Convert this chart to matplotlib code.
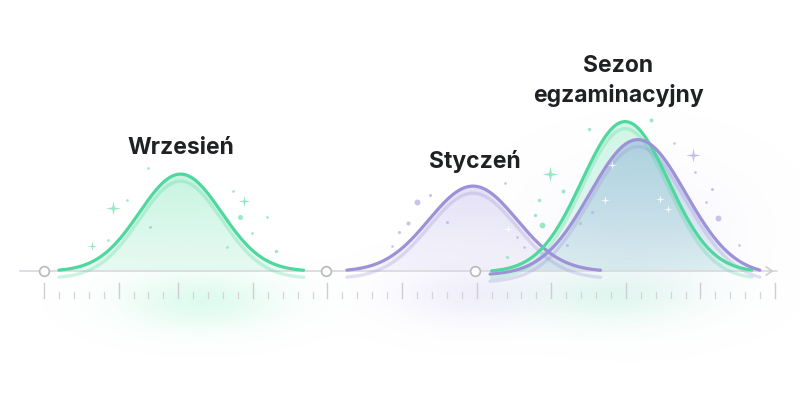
import numpy as np
import matplotlib
matplotlib.use("Agg")
import matplotlib.pyplot as plt
from matplotlib.colors import to_rgb
from matplotlib.path import Path
from matplotlib.patches import Polygon

plt.rcParams['font.family'] = ['Inter', 'DejaVu Sans']

# ---------------- data ----------------
labels = ["Wrzesień", "Styczeń", "Sezon\negzaminacyjny"]
label_x = [9.15, 28.9, 38.5]
label_y = [0.82, 0.733, 1.267]

curve_names = ["wrzesien", "styczen", "egzamin_a", "egzamin_b"]
curve_center = [9.15, 28.75, 38.95, 39.8]
curve_sigma = [2.75, 2.95, 2.9, 3.2]
curve_peak = [0.64, 0.56, 0.99, 0.87]
curve_start = [1.0, 20.3, 30.0, 29.9]
curve_end = [17.4, 37.3, 47.45, 47.98]
curve_kind = ["green", "purple", "green", "purple"]

axis_start, axis_end = -1.6, 49.1
tick_positions = list(range(0, 50))
major_ticks = [0, 5, 9, 14, 19, 24, 29, 34, 39, 44, 49]
marker_points = [0.0, 18.9, 28.9]

# decorative sparkles (t, value, size, colour kind)
dots_x = [6.97, 5.56, 4.29, 7.10, 12.67, 13.14, 13.94, 14.95, 15.55, 12.27,
          25.0, 25.87, 24.4, 23.8, 23.3, 27.0, 30.9, 31.7, 32.2,
          34.8, 33.2, 33.4, 32.9, 35.05, 31.0, 36.5, 40.7,
          42.2, 43.6, 44.8, 44.4, 45.2, 46.6, 35.9, 36.7]
dots_y = [0.687, 0.473, 0.207, 0.293, 0.533, 0.36, 0.253, 0.36, 0.133, 0.16,
          0.46, 0.507, 0.32, 0.26, 0.167, 0.327, 0.587, 0.227, 0.16,
          0.533, 0.473, 0.307, 0.373, 0.173, 0.093, 0.947, 1.007,
          0.853, 0.66, 0.547, 0.46, 0.353, 0.173, 0.32, 0.393]
dots_s = [6, 6, 6, 8, 6, 22, 6, 6, 10, 6,
          30, 8, 14, 8, 6, 8, 6, 6, 6,
          14, 10, 30, 10, 8, 8, 10, 14,
          6, 6, 8, 6, 30, 6, 8, 8]
dots_c = ["g", "g", "g", "g", "g", "g", "g", "g", "g", "g",
          "p", "p", "p", "p", "p", "p", "p", "p", "p",
          "g", "g", "g", "g", "p", "g", "g", "g",
          "p", "p", "p", "p", "p", "p", "p", "p"]
stars_x = [4.62, 3.22, 13.4, 33.9, 43.5]
stars_y = [0.42, 0.167, 0.467, 0.647, 0.773]
stars_s = [110, 45, 70, 130, 110]
stars_c = ["g", "g", "g", "g", "p"]
white_x = [31.1, 38.1, 37.6, 41.3, 41.8]
white_y = [0.28, 0.707, 0.473, 0.48, 0.413]

# ---------------- style ----------------
GREEN = "#4fd89e"
PURPLE = "#9d92d8"
GREEN_FILL = "#62e0aa"
PURPLE_FILL = "#a9a2e2"
EXAM_FILL = "#7fa3d6"
COL = {"g": "#7fe0b6", "p": "#b7afe3"}
X0, PXT = 44.0, 14.92
PXV = 150.0

fig = plt.figure(figsize=(8, 4.2), dpi=100)
ax = fig.add_axes([0, 0, 1, 1])
ax.axis("off")
xmin, xmax = -X0 / PXT, (800 - X0) / PXT
ymin, ymax = -(420 - 271) / PXV, 271 / PXV

# background glow
gx = np.linspace(xmin, xmax, 500)
gy = np.linspace(ymin, ymax, 260)
GX, GY = np.meshgrid(gx, gy)
bg = np.ones((len(gy), len(gx), 4))
glows = [(10.5, -0.2, 3.6, 0.13, "#9af2cb", 0.32),
         (28.5, -0.15, 3.5, 0.14, "#d4cdf4", 0.30),
         (38.0, -0.17, 4.0, 0.13, "#a8f0cf", 0.30),
         (40.0, 0.25, 4.5, 0.3, "#d4cff3", 0.18)]
eps = 1e-4
acc_a = np.zeros_like(GX)
acc_c = np.zeros(GX.shape + (3,)) + eps
for cx, cy, sx, sy, c, a in glows:
    w = a * np.exp(-0.5 * (((GX - cx) / sx) ** 2 + ((GY - cy) / sy) ** 2))
    acc_c += w[..., None] * np.array(to_rgb(c))
    acc_a += w
bg[..., :3] = np.clip(acc_c / (acc_a[..., None] + eps), 0, 1)
bg[..., 3] = np.clip(acc_a, 0, 1)
ax.imshow(bg, extent=[xmin, xmax, ymin, ymax], origin="lower", aspect="auto",
          zorder=0, interpolation="bilinear")


def curve(i):
    t = np.linspace(curve_start[i], curve_end[i], 400)
    g = np.exp(-0.5 * ((t - curve_center[i]) / curve_sigma[i]) ** 2)
    e = np.exp(-0.5 * ((np.array([curve_start[i], curve_end[i]]) - curve_center[i]) / curve_sigma[i]) ** 2).max()
    y = curve_peak[i] * (g - e) / (1 - e) + 0.006
    return t, y


def grad_fill(t, y, color, a_top, a_bot, z):
    verts = np.column_stack([np.r_[t, t[::-1]], np.r_[y, np.zeros_like(y)]])
    patch = Polygon(verts, closed=True, facecolor="none", edgecolor="none",
                    transform=ax.transData)
    ax.add_patch(patch)
    n = 256
    rgba = np.zeros((n, 1, 4))
    rgba[..., :3] = to_rgb(color)
    rgba[:, 0, 3] = np.linspace(a_bot, a_top, n)
    im = ax.imshow(rgba, extent=[t.min(), t.max(), 0, y.max()], origin="lower",
                   aspect="auto", zorder=z, interpolation="bilinear")
    im.set_clip_path(patch)


fills = {0: (GREEN_FILL, 0.36, 0.14), 1: (PURPLE_FILL, 0.32, 0.10),
         2: (GREEN_FILL, 0.30, 0.10), 3: (EXAM_FILL, 0.45, 0.12)}
for i in range(4):
    t, y = curve(i)
    fc, at, ab = fills[i]
    grad_fill(t, y, fc, at, ab, 1 + i * 0.1)

# axis line
ax.plot([axis_start, axis_end], [0, 0], color="#dadae0", lw=1.3, zorder=2, solid_capstyle="round")
ax.annotate("", xy=(axis_end, 0), xytext=(axis_end - 0.6, 0),
            arrowprops=dict(arrowstyle="->,head_length=0.45,head_width=0.3", color="#cfcfd6", lw=1.2),
            zorder=2)

# ticks
for k in tick_positions:
    if k in major_ticks:
        ax.plot([k, k], [-0.08, -0.18], color="#cdcdd3", lw=1.0, zorder=2)
    else:
        ax.plot([k, k], [-0.14, -0.18], color="#d4d4da", lw=0.9, zorder=2)

# curves lines
for i in range(4):
    t, y = curve(i)
    c = GREEN if curve_kind[i] == "green" else PURPLE
    ax.plot(t, y - 0.047, color=c, lw=2.4, alpha=0.28, zorder=3, solid_capstyle="round")
for i in range(4):
    t, y = curve(i)
    c = GREEN if curve_kind[i] == "green" else PURPLE
    ax.plot(t, y, color=c, lw=2.3, zorder=4 + i * 0.1, solid_capstyle="round")

ax.plot(marker_points, [0] * len(marker_points), "o", ms=7, mfc="white",
        mec="#b8b8c0", mew=1.2, zorder=5)

# sparkles
for x, y, s, c in zip(dots_x, dots_y, dots_s, dots_c):
    ax.scatter([x], [y], s=s * 0.6, color=COL[c], alpha=0.75, lw=0, zorder=6)
star = Path([(0, 1), (0.16, 0.16), (1, 0), (0.16, -0.16), (0, -1), (-0.16, -0.16),
             (-1, 0), (-0.16, 0.16), (0, 1)])
for x, y, s, c in zip(stars_x, stars_y, stars_s, stars_c):
    ax.scatter([x], [y], s=s, marker=star, color=COL[c], alpha=0.8, lw=0, zorder=6)
ax.scatter(white_x, white_y, s=40, marker=star, color="white", alpha=0.9, lw=0, zorder=6)

# labels
for lab, x, y in zip(labels, label_x, label_y):
    ax.text(x, y, lab, ha="center", va="center", fontsize=16.5, fontweight="bold",
            color="#1f2125", linespacing=1.4, zorder=7)

ax.set_xlim(xmin, xmax)
ax.set_ylim(ymin, ymax)
fig.savefig("out.png", dpi=100, facecolor="white")
